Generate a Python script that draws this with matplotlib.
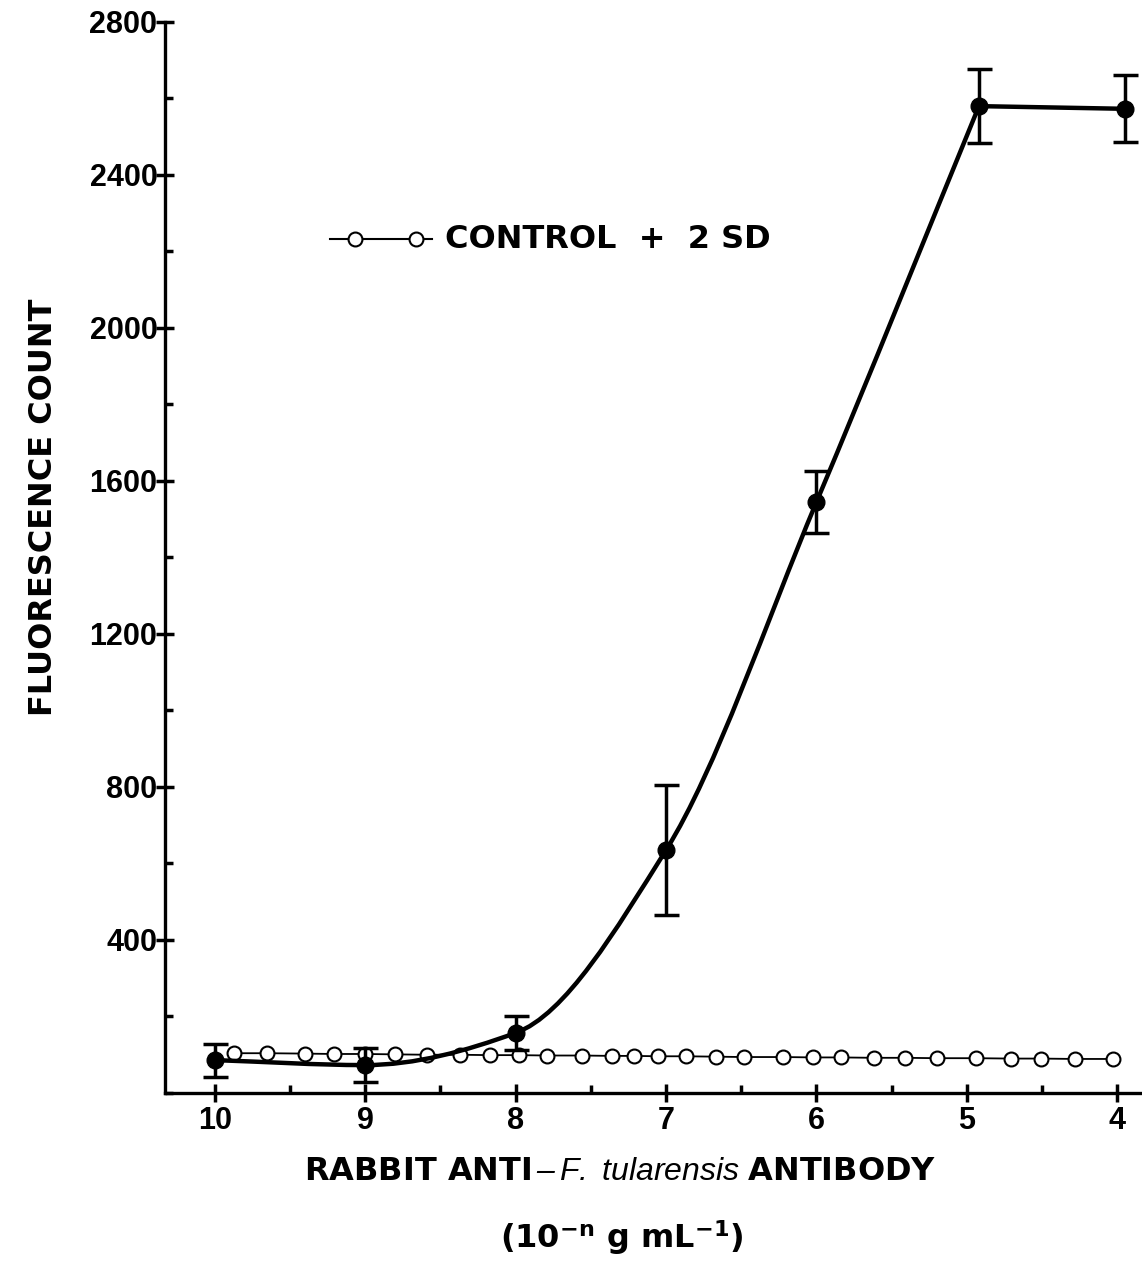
import numpy as np
import matplotlib.pyplot as plt
from matplotlib.path import Path
from matplotlib.patches import PathPatch
from matplotlib.ticker import MultipleLocator

plt.rcParams['font.family'] = ['DejaVu Sans']
plt.rcParams['mathtext.fontset'] = 'custom'
plt.rcParams['mathtext.rm'] = 'Liberation Sans:italic'
plt.rcParams['mathtext.it'] = 'Liberation Sans:italic'
plt.rcParams['mathtext.bf'] = 'DejaVu Sans:bold'

# antibody concentration exponent n (10^-n g/mL) and fluorescence counts
dose = [10, 9, 8, 7, 6, 4.92, 3.95]
counts = [86, 73, 157, 635, 1545, 2580, 2573]
counts_sd = [43, 45, 45, 170, 80, 97, 88]

ctrl_dose = [9.87, 9.65, 9.40, 9.21, 9.00, 8.80, 8.59, 8.37, 8.17, 7.98,
             7.79, 7.56, 7.36, 7.21, 7.05, 6.87, 6.67, 6.48, 6.22, 6.02,
             5.84, 5.62, 5.41, 5.20, 4.94, 4.71, 4.51, 4.28, 4.03]
ctrl_counts = [104, 104, 103, 102, 102, 101, 100, 100, 99, 99,
               98, 98, 97, 97, 96, 96, 95, 94, 94, 93,
               93, 92, 92, 91, 91, 90, 90, 89, 89]

x_ticks = [10, 9, 8, 7, 6, 5, 4]
y_ticks = [400, 800, 1200, 1600, 2000, 2400, 2800]


def smooth_path(xs, ys):
    # monotone (pchip style) bezier through all but the last point,
    # then a straight leg to the plateau point
    x = np.asarray(xs, float)
    y = np.asarray(ys, float)
    n = len(x) - 1
    h = np.diff(x[:n])
    d = np.diff(y[:n]) / h
    m = np.zeros(n)
    m[0] = d[0]
    m[-1] = d[-1]
    for k in range(1, n - 1):
        if d[k - 1] * d[k] > 0:
            w1 = 2 * abs(h[k]) + abs(h[k - 1])
            w2 = abs(h[k]) + 2 * abs(h[k - 1])
            m[k] = (w1 + w2) / (w1 / d[k - 1] + w2 / d[k])
    verts = [(x[0], y[0])]
    codes = [Path.MOVETO]
    for k in range(n - 1):
        hk = h[k]
        verts += [(x[k] + hk / 3, y[k] + m[k] * hk / 3),
                  (x[k + 1] - hk / 3, y[k + 1] - m[k + 1] * hk / 3),
                  (x[k + 1], y[k + 1])]
        codes += [Path.CURVE4] * 3
    verts.append((x[n], y[n]))
    codes.append(Path.LINETO)
    return Path(verts, codes)


fig = plt.figure(figsize=(11.42, 12.63), dpi=100)
ax = fig.add_axes([0.1445, 0.1346, 0.855, 0.848])

ax.plot(ctrl_dose, ctrl_counts, '-o', color='black', lw=1.3, ms=10,
        mfc='white', mec='black', mew=1.5, zorder=3)

ax.add_patch(PathPatch(smooth_path(dose, counts), fill=False, lw=3.2,
                       ec='black', capstyle='round', zorder=4))
ax.errorbar(dose, counts, yerr=counts_sd, fmt='o', color='black', ms=12,
            elinewidth=2.5, capsize=9, capthick=2.5, zorder=5)

ax.set_xlim(10.33, 3.84)
ax.set_ylim(0, 2800)
ax.set_xticks(x_ticks)
ax.set_yticks(y_ticks)
ax.xaxis.set_minor_locator(MultipleLocator(0.5))
ax.yaxis.set_minor_locator(MultipleLocator(200))

for s in ['top', 'right']:
    ax.spines[s].set_visible(False)
for s in ['left', 'bottom']:
    ax.spines[s].set_linewidth(2.4)

ax.tick_params(which='major', direction='inout', length=13, width=2.5,
               labelsize=22)
ax.tick_params(axis='y', which='major', pad=-1)
ax.tick_params(axis='x', which='major', pad=3)
ax.tick_params(which='minor', direction='in', length=6, width=2.5)
for lab in ax.get_xticklabels() + ax.get_yticklabels():
    lab.set_fontfamily('Liberation Sans')
    lab.set_fontweight('bold')

fig.text(0.0385, 0.5986, 'FLUORESCENCE COUNT', rotation=90, ha='center',
         va='center', fontsize=23, fontweight='bold')
xlabel = 'RABBIT ANTI' + '$\\,\u2013\\,F.\\ tularensis\\ $' + 'ANTIBODY'
fig.text(0.543, 0.0657, xlabel, ha='center', va='baseline', fontsize=23,
         fontweight='bold')
fig.text(0.544, 0.0119, r'(10$^{\mathbf{-n}}$ g mL$^{\mathbf{-1}}$)',
         ha='center', va='baseline', fontsize=23, fontweight='bold')

# legend drawn by hand
ax.plot([0.169, 0.273], [0.797, 0.797], '-', color='black', lw=1.5,
        transform=ax.transAxes, clip_on=False)
ax.plot([0.195, 0.257], [0.797, 0.797], 'o', color='black', ms=10,
        mfc='white', mew=1.5, transform=ax.transAxes, clip_on=False)
ax.text(0.287, 0.797, 'CONTROL  +  2 SD', transform=ax.transAxes,
        fontsize=23, fontweight='bold', va='center', ha='left')

fig.savefig('out.png', dpi=100)
